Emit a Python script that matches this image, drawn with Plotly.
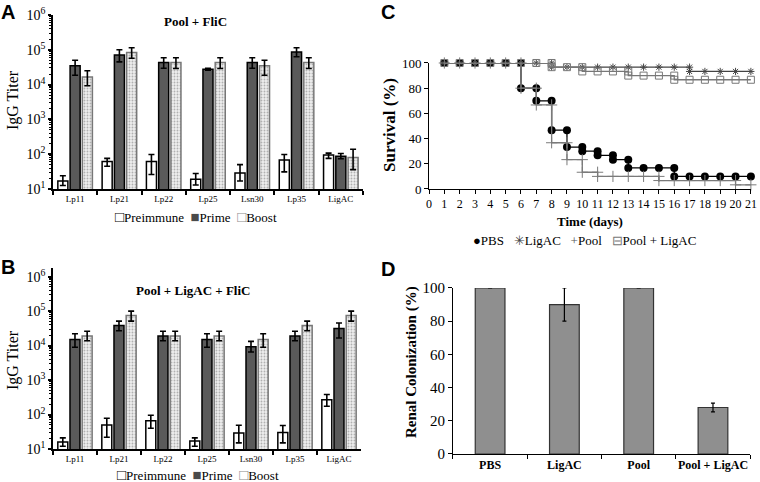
import plotly.graph_objects as go

SERIF = "Liberation Serif"
SANS = "Liberation Sans"

# ---------------- data ----------------
antigens = ["Lp11", "Lp21", "Lp22", "Lp25", "Lsn30", "Lp35", "LigAC"]

# Panel A: Pool + FliC (IgG titers)
a_pre = [17, 62, 62, 19, 29, 68, 95]
a_pre_hi = [24, 76, 98, 28, 50, 98, 107]
a_pre_lo = [12.6, 45, 26, 13, 17, 31, 76]
a_prime = [35000, 71000, 43000, 27500, 43000, 87000, 87]
a_prime_hi = [50000, 100000, 59000, 29500, 59000, 115000, 105]
a_prime_lo = [18600, 45000, 29500, 25700, 29500, 63000, 74]
a_boost = [16600, 83000, 43000, 43000, 35000, 43000, 81]
a_boost_hi = [25000, 115000, 59000, 59000, 50000, 59000, 138]
a_boost_lo = [9300, 57000, 29000, 29000, 18600, 29000, 36]

# Panel B: Pool + LigAC + FliC (IgG titers)
b_pre = [16, 50, 66, 17, 29, 30, 270]
b_pre_hi = [21, 78, 95, 21, 49, 48, 380]
b_pre_lo = [12, 22, 40, 12, 15, 15, 174]
b_prime = [15000, 38000, 19000, 15000, 9300, 19000, 31000]
b_prime_hi = [22000, 51000, 26000, 22000, 13200, 26000, 45000]
b_prime_lo = [8900, 27000, 13800, 8900, 6500, 13800, 16600]
b_boost = [19000, 74000, 19000, 19000, 15000, 38000, 74000]
b_boost_hi = [26000, 100000, 26000, 26000, 22000, 51000, 100000]
b_boost_lo = [13800, 51000, 13800, 13800, 8900, 27000, 51000]

titer_ticks = [1e1, 1e2, 1e3, 1e4, 1e5, 1e6]
titer_ticktext = ["10<sup>1</sup>", "10<sup>2</sup>", "10<sup>3</sup>",
                  "10<sup>4</sup>", "10<sup>5</sup>", "10<sup>6</sup>"]
titer_minor = [m * 10 ** d for d in range(1, 6) for m in range(2, 10)]

# Panel C: survival (%)
pbs_days = [1, 2, 3, 4, 5, 6, 6, 7, 7, 8, 8, 9, 9, 10, 10, 11, 11, 12, 12,
            13, 13, 14, 15, 16, 16, 17, 18, 19, 20, 21]
pbs_surv = [100, 100, 100, 100, 100, 100, 80, 80, 70, 70, 46.7, 46.7, 33.3,
            33.3, 30, 30, 26.7, 26.7, 23.3, 23.3, 16.7, 16.7, 16.7, 16.7, 10,
            10, 10, 10, 10, 10]
ligac_days = [1, 2, 3, 4, 5, 6, 7, 8, 8, 9, 10, 11, 12, 13, 14, 15, 16, 17, 17,
              18, 19, 20, 21]
ligac_surv = [100, 100, 100, 100, 100, 100, 100, 100, 96.7, 96.7, 96.7, 96.7,
              96.7, 96.7, 96.7, 96.7, 96.7, 96.7, 93.3, 93.3, 93.3, 93.3, 93.3]
pool_days = [1, 2, 3, 4, 5, 6, 6, 7, 7, 8, 8, 9, 9, 10, 10, 11, 11, 12, 13, 14,
             15, 15, 16, 17, 18, 19, 20, 20, 21]
pool_surv = [100, 100, 100, 100, 100, 100, 80, 80, 66.7, 66.7, 36.7, 36.7,
             23.3, 23.3, 13.3, 13.3, 10, 10, 10, 10, 10, 6.7, 6.7, 6.7, 6.7,
             6.7, 6.7, 3.3, 3.3]
poolligac_days = [1, 2, 3, 4, 5, 6, 7, 8, 8, 9, 10, 10, 11, 12, 13, 13, 14, 15,
                  16, 16, 17, 18, 19, 20, 21]
poolligac_surv = [100, 100, 100, 100, 100, 100, 100, 100, 96.7, 96.7, 96.7,
                  93.3, 93.3, 93.3, 93.3, 90, 90, 90, 90, 86.7, 86.7, 86.7,
                  86.7, 86.7, 86.7]

# Panel D: renal colonization (%)
groups_d = ["PBS", "LigAC", "Pool", "Pool + LigAC"]
colonization = [100, 90, 100, 28]
colonization_err = [0, 10, 0, 2.6]


def err(vals, hi, lo):
    return dict(type="data", array=[h - v for v, h in zip(vals, hi)],
                arrayminus=[v - l for v, l in zip(vals, lo)],
                color="black", thickness=1.6, width=3)


fig = go.Figure()

styles = {
    "Preimmune": dict(color="white", line=dict(color="black", width=1.5)),
    "Prime": dict(color="#5a5a5a", line=dict(color="black", width=1.5)),
    "Boost": dict(color="#e8e8e8", line=dict(color="#777777", width=1.5),
                  pattern=dict(shape=".", size=3, solidity=0.3,
                               fgcolor="#b0b0b0", bgcolor="#efefef")),
}

for (ax, ay, series) in [
    ("x", "y", [("Preimmune", a_pre, a_pre_hi, a_pre_lo),
                ("Prime", a_prime, a_prime_hi, a_prime_lo),
                ("Boost", a_boost, a_boost_hi, a_boost_lo)]),
    ("x2", "y2", [("Preimmune", b_pre, b_pre_hi, b_pre_lo),
                  ("Prime", b_prime, b_prime_hi, b_prime_lo),
                  ("Boost", b_boost, b_boost_hi, b_boost_lo)]),
]:
    for name, v, hi, lo in series:
        fig.add_trace(go.Bar(x=antigens, y=v, name=name, xaxis=ax, yaxis=ay,
                             showlegend=False, marker=styles[name],
                             error_y=err(v, hi, lo)))

# Panel C
fig.add_trace(go.Scatter(x=pbs_days, y=pbs_surv, name="PBS", xaxis="x3",
                         yaxis="y3", showlegend=False, mode="lines+markers",
                         line=dict(color="black", width=1.3),
                         marker=dict(symbol="circle", size=8, color="black"),
                         cliponaxis=False))
fig.add_trace(go.Scatter(x=ligac_days, y=ligac_surv, name="LigAC", xaxis="x3",
                         yaxis="y3", showlegend=False, mode="lines+markers",
                         line=dict(color="#444444", width=1.3),
                         marker=dict(symbol="asterisk-open", size=6,
                                     line=dict(color="#333333", width=1)),
                         cliponaxis=False))
fig.add_trace(go.Scatter(x=pool_days, y=pool_surv, name="Pool", xaxis="x3",
                         yaxis="y3", showlegend=False, mode="lines+markers",
                         line=dict(color="#7a7a7a", width=1.3),
                         marker=dict(symbol="cross-thin-open", size=8,
                                     line=dict(color="#555555", width=1)),
                         cliponaxis=False))
fig.add_trace(go.Scatter(x=poolligac_days, y=poolligac_surv,
                         name="Pool + LigAC", xaxis="x3", yaxis="y3",
                         showlegend=False, mode="lines+markers",
                         line=dict(color="#777777", width=1.3),
                         marker=dict(symbol="square-open", size=7,
                                     color="#777777",
                                     line=dict(color="#777777", width=1)),
                         cliponaxis=False))

# Panel D
fig.add_trace(go.Bar(x=groups_d, y=colonization, xaxis="x4", yaxis="y4",
                     width=0.4, showlegend=False,
                     marker=dict(color="#8f8f8f",
                                 line=dict(color="#333333", width=1.2)),
                     error_y=dict(type="data", array=colonization_err,
                                  color="black", thickness=1.2, width=2)))

axis_common = dict(showline=True, linecolor="black", ticks="outside",
                   tickcolor="black", showgrid=False, zeroline=False,
                   mirror=False, automargin=False)

bar_x = dict(axis_common, type="category", tickson="boundaries", ticklen=4,
             linewidth=1.5, tickwidth=1.5, range=[-0.5, 6.5], tickangle=0,
             tickfont=dict(family=SERIF, size=9, color="black"))
bar_y = dict(axis_common, type="log", tickvals=titer_ticks,
             ticktext=titer_ticktext, ticklen=3, linewidth=1.5, tickwidth=1.5,
             tickfont=dict(family=SERIF, size=14, color="black"),
             minor=dict(ticks="outside", ticklen=2, tickcolor="black",
                        tickwidth=1, tickvals=titer_minor))

fig.update_layout(
    template="none",
    width=760, height=482, paper_bgcolor="white", plot_bgcolor="white",
    margin=dict(l=0, r=0, t=0, b=0, autoexpand=False),
    showlegend=False,
    barmode="group", bargap=0.17, bargroupgap=0.18,
    font=dict(family=SERIF, color="black"),
    xaxis=dict(bar_x, domain=[0.0697, 0.4776], anchor="y"),
    yaxis=dict(bar_y, domain=[0.6079, 0.9689], anchor="x", range=[1, 6]),
    xaxis2=dict(bar_x, domain=[0.0697, 0.4750], anchor="y2"),
    yaxis2=dict(bar_y, domain=[0.0685, 0.444], anchor="x2", range=[1, 6.25]),
    xaxis3=dict(axis_common, domain=[0.5645, 0.988], anchor="y3",
                range=[0, 21], dtick=1, ticklen=4, linewidth=1, tickangle=0,
                tickfont=dict(family=SERIF, size=12, color="black")),
    yaxis3=dict(axis_common, domain=[0.6079, 0.8693], anchor="x3",
                range=[0, 100], dtick=20, ticklen=4, linewidth=1,
                tickfont=dict(family=SERIF, size=13, color="black")),
    xaxis4=dict(axis_common, type="category", tickson="boundaries",
                domain=[0.596, 0.987], anchor="y4", ticklen=4, linewidth=1,
                tickangle=0,
                tickfont=dict(family=SERIF, size=12, color="black",
                              weight="bold")),
    yaxis4=dict(axis_common, domain=[0.0581, 0.4025], anchor="x4",
                range=[0, 100], dtick=20, ticklen=4, linewidth=1,
                tickfont=dict(family=SERIF, size=15, color="black")),
)

legend_ab = ('<span style="color:black;font-size:15px">□</span>Preimmune  '
             '<span style="color:#4a4a4a;font-size:15px">■</span>Prime  '
             '<span style="color:#8a8a8a;font-size:15px">□</span>Boost')
legend_c = ('●PBS   <span style="color:#444">✳</span>LigAC   '
            '<span style="color:#555">+</span>Pool   '
            '<span style="color:#777">⊟</span>Pool + LigAC')

ann = [
    dict(text="<b>A</b>", x=8 / 760, y=1 - 12 / 482, font=dict(family=SANS, size=20)),
    dict(text="<b>B</b>", x=8 / 760, y=1 - 267 / 482, font=dict(family=SANS, size=20)),
    dict(text="<b>C</b>", x=388 / 760, y=1 - 12 / 482, font=dict(family=SANS, size=20)),
    dict(text="<b>D</b>", x=388 / 760, y=1 - 269 / 482, font=dict(family=SANS, size=20)),
    dict(text="<b>Pool + FliC</b>", x=195 / 760, y=1 - 22 / 482,
         font=dict(family=SERIF, size=13)),
    dict(text="<b>Pool + LigAC + FliC</b>", x=193 / 760, y=1 - 290 / 482,
         font=dict(family=SERIF, size=13)),
    dict(text="IgG Titer", x=13 / 760, y=1 - 100 / 482, textangle=-90,
         font=dict(family=SERIF, size=16)),
    dict(text="IgG Titer", x=13 / 760, y=1 - 360 / 482, textangle=-90,
         font=dict(family=SERIF, size=16)),
    dict(text="<b>Survival (%)</b>", x=390 / 760, y=1 - 125 / 482,
         textangle=-90, font=dict(family=SERIF, size=17)),
    dict(text="<b>Time (days)</b>", x=590 / 760, y=1 - 222 / 482,
         font=dict(family=SERIF, size=13)),
    dict(text="<b>Renal Colonization (%)</b>", x=411 / 760, y=1 - 362 / 482,
         textangle=-90, font=dict(family=SERIF, size=15)),
    dict(text=legend_ab, x=196 / 760, y=1 - 217 / 482,
         font=dict(family=SERIF, size=13)),
    dict(text=legend_ab, x=198 / 760, y=1 - 475 / 482,
         font=dict(family=SERIF, size=13)),
    dict(text=legend_c, x=584 / 760, y=1 - 240 / 482,
         font=dict(family=SERIF, size=13)),
]
for a in ann:
    a.update(xref="paper", yref="paper", showarrow=False, xanchor="center",
             yanchor="middle")
    a["font"]["color"] = "black"
fig.update_layout(annotations=ann)

fig.write_html("out.html", config={"displayModeBar": False},
               post_script="document.body.style.margin='0';"
                           "document.body.style.overflow='hidden';")
